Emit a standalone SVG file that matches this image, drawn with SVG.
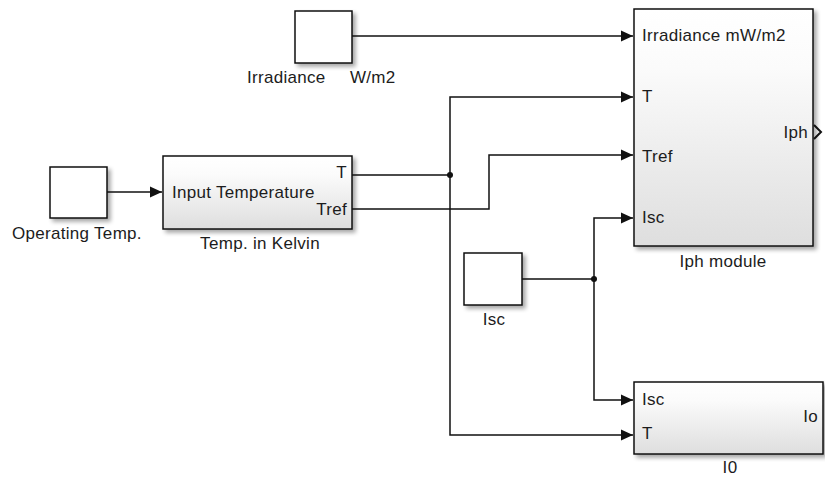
<svg xmlns="http://www.w3.org/2000/svg" width="825" height="477" viewBox="0 0 825 477">
<style>
  text { font-family: "Liberation Sans", Arial, sans-serif; font-size: 17px; letter-spacing: 0.3px; fill: #1c1c1c; }
  .blk { stroke: #111; stroke-width: 1.5; filter: url(#sh); }
  .src { fill: #fff; }
  .sub { fill: url(#g); }
  .wire { fill: none; stroke: #111; stroke-width: 1.5; }
  .arr { marker-end: url(#ah); }
  .mid { text-anchor: middle; }
  .end { text-anchor: end; }
</style>
<defs>
  <linearGradient id="g" x1="0" y1="0" x2="0" y2="1">
    <stop offset="0" stop-color="#ffffff"/>
    <stop offset="0.25" stop-color="#fbfbfb"/>
    <stop offset="1" stop-color="#dedede"/>
  </linearGradient>
  <filter id="sh" x="-10%" y="-10%" width="125%" height="130%">
    <feGaussianBlur in="SourceAlpha" stdDeviation="2"/>
    <feOffset dx="3" dy="3" result="b"/>
    <feComponentTransfer><feFuncA type="linear" slope="0.35"/></feComponentTransfer>
    <feMerge><feMergeNode/><feMergeNode in="SourceGraphic"/></feMerge>
  </filter>
  <marker id="ah" markerUnits="userSpaceOnUse" markerWidth="13" markerHeight="12" refX="12" refY="6" orient="auto">
    <path d="M0,0.5 L12,6 L0,11.5 z" fill="#111"/>
  </marker>
</defs>

<g id="irradiance">
  <rect class="blk src" x="295" y="11" width="57" height="52"/>
  <text x="247" y="83">Irradiance<tspan x="350">W/m2</tspan></text>
</g>

<g id="operating-temp">
  <rect class="blk src" x="50" y="167" width="57" height="51"/>
  <text x="12" y="239">Operating Temp.</text>
</g>

<g id="temp-kelvin">
  <rect class="blk sub" x="163" y="156" width="189" height="73"/>
  <text x="172" y="198">Input Temperature</text>
  <text class="end" x="347" y="178">T</text>
  <text class="end" x="347" y="215">Tref</text>
  <text class="mid" x="260" y="249">Temp. in Kelvin</text>
</g>

<g id="isc">
  <rect class="blk src" x="464" y="253" width="58" height="52"/>
  <text class="mid" x="494" y="325">Isc</text>
</g>

<g id="iph-module">
  <rect class="blk sub" x="634" y="9" width="179" height="237"/>
  <text x="642" y="41">Irradiance mW/m2</text>
  <text x="642" y="102">T</text>
  <text x="642" y="162">Tref</text>
  <text x="642" y="223">Isc</text>
  <text class="end" x="808" y="138">Iph</text>
  <path class="wire" style="stroke-width:2" d="M814,125 L821,132 L814,139"/>
  <text class="mid" x="723" y="267">Iph module</text>
</g>

<g id="i0">
  <rect class="blk sub" x="634" y="382" width="189" height="72"/>
  <text x="642" y="405">Isc</text>
  <text x="642" y="439">T</text>
  <text class="end" x="818" y="422">Io</text>
  <text class="mid" x="730" y="473">I0</text>
</g>

<g id="connectors">
  <path class="wire arr" d="M352,36 L633,36"/>
  <path class="wire arr" d="M107,192 L162,192"/>
  <path class="wire arr" d="M352,175 L450,175 L450,97 L633,97"/>
  <path class="wire arr" d="M450,175 L450,435 L633,435"/>
  <path class="wire arr" d="M352,209 L489,209 L489,155 L633,155"/>
  <path class="wire arr" d="M522,279 L594,279 L594,218 L633,218"/>
  <path class="wire arr" d="M594,279 L594,400 L633,400"/>
  <circle cx="450" cy="175" r="3" fill="#111"/>
  <circle cx="594" cy="279" r="3" fill="#111"/>
</g>
</svg>
